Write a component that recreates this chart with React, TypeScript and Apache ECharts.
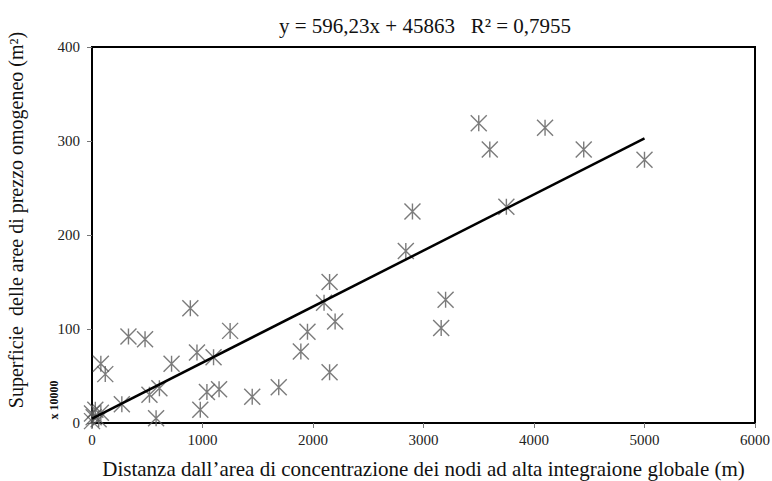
import React, { useEffect, useRef } from "react";
import * as echarts from "echarts";

const xValues = [
  3500, 3600, 4100, 4450, 5000, 3750, 2900, 2840, 2150, 2100, 3200, 3160,
  2200, 1950, 1890, 2150, 890, 330, 480, 1250, 80, 120, 720, 950, 1100,
  610, 520, 270, 1040, 1150, 1450, 1690, 980, 580,
  0, 0, 15, 30, 80, 60,
];
const yValues = [
  319, 291, 314, 291, 280, 230, 225, 183, 150, 128, 131, 101,
  108, 97, 76, 54, 122, 92, 89, 98, 63, 52, 63, 75, 70,
  37, 30, 20, 33, 36, 28, 38, 14, 5,
  2, 10, 6, 14, 11, 4,
];
const trendSlope = 596.23;
const trendIntercept = 45863;
const yUnit = 10000;
const trendRange = [0, 5000];
const xTicks = { min: 0, max: 6000, interval: 1000 };
const yTicks = { min: 0, max: 400, interval: 100 };

const titleText = "y = 596,23x + 45863   R² = 0,7955";
const xTitle =
  "Distanza dall’area di concentrazione dei nodi ad alta integraione globale (m)";
const yTitle = "Superficie  delle aree di prezzo omogeneo (m²)";
const yUnitLabel = "x 10000";

const SERIF = "'Liberation Serif', 'Times New Roman', serif";

export default function App() {
  const ref = useRef<HTMLDivElement>(null);
  useEffect(() => {
    if (!ref.current) return;
    const chart = echarts.init(ref.current, undefined, { renderer: "svg" });
    const points = xValues.map((x, i) => [x, yValues[i]]);
    const trend = trendRange.map((x) => [x, (trendSlope * x + trendIntercept) / yUnit]);
    chart.setOption({
      animation: false,
      backgroundColor: "#ffffff",
      title: {
        text: titleText,
        left: 420,
        top: 10,
        textAlign: "center",
        textStyle: { fontFamily: SERIF, fontSize: 21, fontWeight: "normal", color: "#111" },
      },
      grid: {
        left: 92,
        right: 17,
        top: 47,
        bottom: 58,
        outerBoundsMode: "none",
        containLabel: false,
        show: true,
        borderColor: "#000",
        borderWidth: 2,
        backgroundColor: "transparent",
      },
      xAxis: {
        type: "value",
        min: xTicks.min,
        max: xTicks.max,
        interval: xTicks.interval,
        name: xTitle,
        nameLocation: "middle",
        nameGap: 35,
        nameTextStyle: { fontFamily: SERIF, fontSize: 21, color: "#111" },
        axisLine: { show: true, lineStyle: { color: "#000", width: 2 } },
        axisTick: { show: true, length: 5, lineStyle: { color: "#777" } },
        splitLine: { show: false },
        axisLabel: {
          fontFamily: SERIF,
          fontSize: 15,
          color: "#222",
          margin: 9,
          formatter: (v: number) => String(v),
        },
      },
      yAxis: {
        type: "value",
        min: yTicks.min,
        max: yTicks.max,
        interval: yTicks.interval,
        name: yTitle,
        nameLocation: "middle",
        nameRotate: 90,
        nameGap: 66,
        nameTextStyle: {
          fontFamily: SERIF,
          fontSize: 20,
          color: "#111",
          padding: [0, 0, 0, 30],
        },
        axisLine: { show: true, lineStyle: { color: "#000", width: 2 } },
        axisTick: { show: true, length: 5, lineStyle: { color: "#777" } },
        splitLine: { show: false },
        axisLabel: {
          fontFamily: SERIF,
          fontSize: 15,
          color: "#222",
          margin: 12,
          formatter: (v: number) => String(v),
        },
      },
      graphic: [
        {
          type: "text",
          x: 54,
          y: 400,
          rotation: Math.PI / 2,
          style: {
            text: yUnitLabel,
            fontFamily: SERIF,
            fontSize: 12,
            fontWeight: "bold",
            fill: "#111",
            align: "center",
            verticalAlign: "middle",
          },
        },
      ],
      series: [
        {
          type: "scatter",
          data: points,
          symbol: "path://M0,0L20,20M20,0L0,20M10,0L10,20",
          symbolSize: 16,
          itemStyle: { color: "transparent", borderColor: "#5a5a5a", borderWidth: 1.4 },
          z: 2,
        },
        {
          type: "line",
          data: trend,
          showSymbol: false,
          symbol: "none",
          lineStyle: { color: "#000", width: 2.5 },
          z: 3,
        },
      ],
    });
    return () => chart.dispose();
  }, []);
  return (
    <div
      ref={ref}
      style={{ position: "absolute", left: 0, top: 0, width: 772, height: 481 }}
    />
  );
}
